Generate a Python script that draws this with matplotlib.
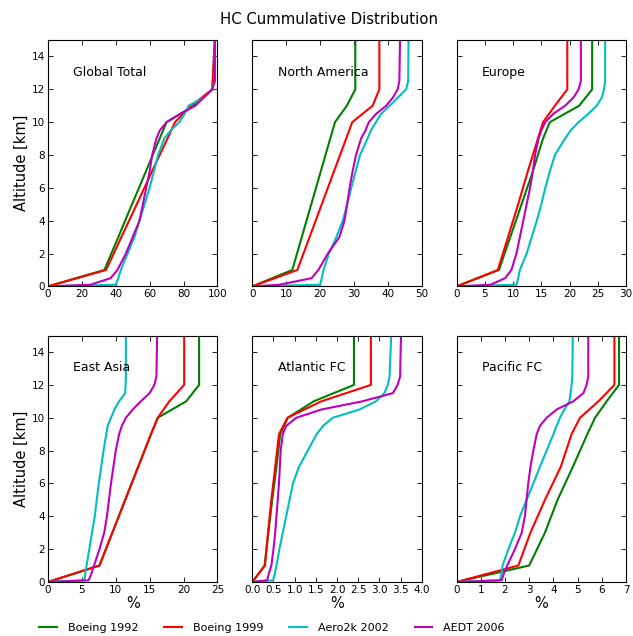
import matplotlib
matplotlib.use("Agg")
import matplotlib.pyplot as plt
import numpy as np

# altitude grids [km]
boeing_alt = [0, 1, 3, 5, 7, 9, 10, 11, 12, 15]
fine_alt = [0, 0.1, 0.5, 1, 2, 3, 4, 5, 6, 7, 8, 9, 9.5, 10, 10.5, 11, 11.5, 12, 12.5, 15]

regions = ["Global Total", "North America", "Europe", "East Asia", "Atlantic FC", "Pacific FC"]
series_names = ["Boeing 1992", "Boeing 1999", "Aero2k 2002", "AEDT 2006"]

# cumulative % per region (Boeing on boeing_alt, Aero2k/AEDT on fine_alt)
global_b92 = [0, 33.3, 41.5, 49.6, 57.8, 65.9, 70, 86, 97, 98.5]
global_b99 = [0, 34.3, 43.3, 52.4, 61.4, 70.5, 75, 84.5, 97, 98.5]
global_a2k = [0, 40, 41.5, 43, 47, 51, 54, 57, 60, 62.5, 65, 68.6, 72.5, 77.5, 80.6, 83, 92, 96.5, 98.5, 98.5]
global_aedt = [0, 25, 37, 41, 46, 50, 54, 56, 58, 60, 61.5, 64, 66, 70, 78, 87, 92, 97, 98.5, 98.5]

na_b92 = [0, 11.8, 14.6, 17.4, 20.2, 23.0, 24.4, 27.9, 30.4, 30.4]
na_b99 = [0, 13.3, 16.9, 20.5, 24.1, 27.7, 29.5, 35.5, 37.5, 37.5]
na_a2k = [0, 20, 20.5, 21, 22.6, 24.8, 26.7, 28, 29.2, 30.5, 31.8, 34, 35, 36.5, 38, 40.5, 43, 45.4, 46, 46.1]
na_aedt = [0, 8, 17.5, 19.5, 22.3, 25.7, 27.2, 28, 28.7, 29.6, 30.6, 32.1, 33.4, 34.4, 36.5, 39.5, 41.5, 42.9, 43.4, 43.6]

eu_b92 = [0, 7.5, 9.5, 11.5, 13.5, 15.3, 16.5, 21.7, 24, 24]
eu_b99 = [0, 7.3, 9.1, 10.9, 12.6, 14.4, 15.3, 17.4, 19.6, 19.6]
eu_a2k = [0, 10.6, 10.9, 11.2, 12.4, 13.3, 14.2, 15.0, 15.7, 16.5, 17.4, 19.2, 20.2, 21.6, 23.3, 24.8, 25.7, 26.1, 26.3, 26.3]
eu_aedt = [0, 6, 8.6, 9.7, 10.6, 11.2, 11.8, 12.4, 13, 13.5, 13.9, 14.5, 15, 15.7, 17.1, 19.2, 20.7, 21.6, 22, 22]

ea_b92 = [0, 7.6, 9.5, 11.4, 13.3, 15.2, 16.2, 20.4, 22.3, 22.3]
ea_b99 = [0, 7.6, 9.5, 11.4, 13.3, 15.2, 16.2, 17.9, 20.1, 20.1]
ea_a2k = [0, 5.4, 5.5, 5.7, 6.1, 6.5, 6.9, 7.2, 7.5, 7.85, 8.2, 8.6, 8.8, 9.3, 9.8, 10.5, 11.4, 11.45, 11.5, 11.5]
ea_aedt = [0, 6.0, 6.4, 6.8, 7.6, 8.3, 8.7, 9.0, 9.3, 9.65, 10.0, 10.5, 10.9, 11.5, 12.5, 13.7, 15.0, 15.7, 16.0, 16.1]

atl_b92 = [0, 0.29, 0.38, 0.47, 0.57, 0.66, 0.84, 1.45, 2.4, 2.4]
atl_b99 = [0, 0.3, 0.37, 0.45, 0.54, 0.63, 0.83, 1.63, 2.8, 2.8]
atl_a2k = [0, 0.49, 0.53, 0.57, 0.64, 0.72, 0.8, 0.88, 0.96, 1.1, 1.31, 1.52, 1.67, 1.9, 2.53, 2.92, 3.12, 3.2, 3.24, 3.28]
atl_aedt = [0, 0.35, 0.39, 0.45, 0.5, 0.54, 0.57, 0.6, 0.63, 0.65, 0.67, 0.72, 0.8, 1.04, 1.63, 2.6, 3.32, 3.43, 3.49, 3.51]

pac_b92 = [0, 3.0, 3.65, 4.17, 4.8, 5.4, 5.72, 6.2, 6.71, 6.71]
pac_b99 = [0, 2.55, 3.05, 3.65, 4.3, 4.75, 5.1, 5.86, 6.52, 6.52]
pac_a2k = [0, 1.79, 1.85, 1.9, 2.14, 2.41, 2.62, 2.89, 3.17, 3.44, 3.72, 4.0, 4.13, 4.27, 4.45, 4.66, 4.71, 4.75, 4.78, 4.8]
pac_aedt = [0, 1.86, 1.95, 2.09, 2.41, 2.69, 2.82, 2.89, 2.96, 3.05, 3.17, 3.31, 3.44, 3.72, 4.13, 4.82, 5.24, 5.37, 5.44, 5.44]

region_data = [
    (global_b92, global_b99, global_a2k, global_aedt),
    (na_b92, na_b99, na_a2k, na_aedt),
    (eu_b92, eu_b99, eu_a2k, eu_aedt),
    (ea_b92, ea_b99, ea_a2k, ea_aedt),
    (atl_b92, atl_b99, atl_a2k, atl_aedt),
    (pac_b92, pac_b99, pac_a2k, pac_aedt),
]

# x axis limits and tick step per panel
xmax = [100, 50, 30, 25, 4, 7]
xstep = [20, 10, 5, 5, 0.5, 1]

colors = ["#008000", "#ff0000", "#00bfbf", "#bf00bf"]

fig, axes = plt.subplots(2, 3, figsize=(6.33, 6.36), dpi=100)
fig.subplots_adjust(left=0.0758, right=0.989, top=0.937, bottom=0.085,
                    wspace=0.206, hspace=0.2)

for i, ax in enumerate(axes.flat):
    b92, b99, a2k, aedt = region_data[i]
    lines = []
    lines += ax.plot(b92, boeing_alt, color=colors[0], lw=1.5)
    lines += ax.plot(b99, boeing_alt, color=colors[1], lw=1.5)
    lines += ax.plot(a2k, fine_alt, color=colors[2], lw=1.5)
    lines += ax.plot(aedt, fine_alt, color=colors[3], lw=1.5)

    ax.set_xlim(0, xmax[i])
    ax.set_ylim(0, 15)
    ax.set_xticks(np.arange(0, xmax[i] + xstep[i] / 2, xstep[i]))
    ax.set_yticks(np.arange(0, 15, 2))
    ax.tick_params(direction="in", top=True, right=True, labelsize=7.5,
                   length=3.5, width=0.6, pad=2)
    for s in ax.spines.values():
        s.set_linewidth(0.8)
    if i % 3 == 0:
        ax.set_ylabel("Altitude [km]", fontsize=10.5, labelpad=2)
    else:
        ax.set_yticklabels([])
    if i >= 3:
        ax.set_xlabel("%", fontsize=10.5, labelpad=1)
    ax.text(0.15, 0.87, regions[i], transform=ax.transAxes, fontsize=9,
            ha="left", va="center")

fig.suptitle("HC Cummulative Distribution", x=0.519, y=0.969, fontsize=10.7, va="center")
fig.legend(lines, series_names, loc="center", bbox_to_anchor=(0.43, 0.0126),
           ncol=4, frameon=False, fontsize=8, handlelength=1.6,
           handletextpad=1.0, columnspacing=2.3)

plt.savefig("out.png", dpi=100)
